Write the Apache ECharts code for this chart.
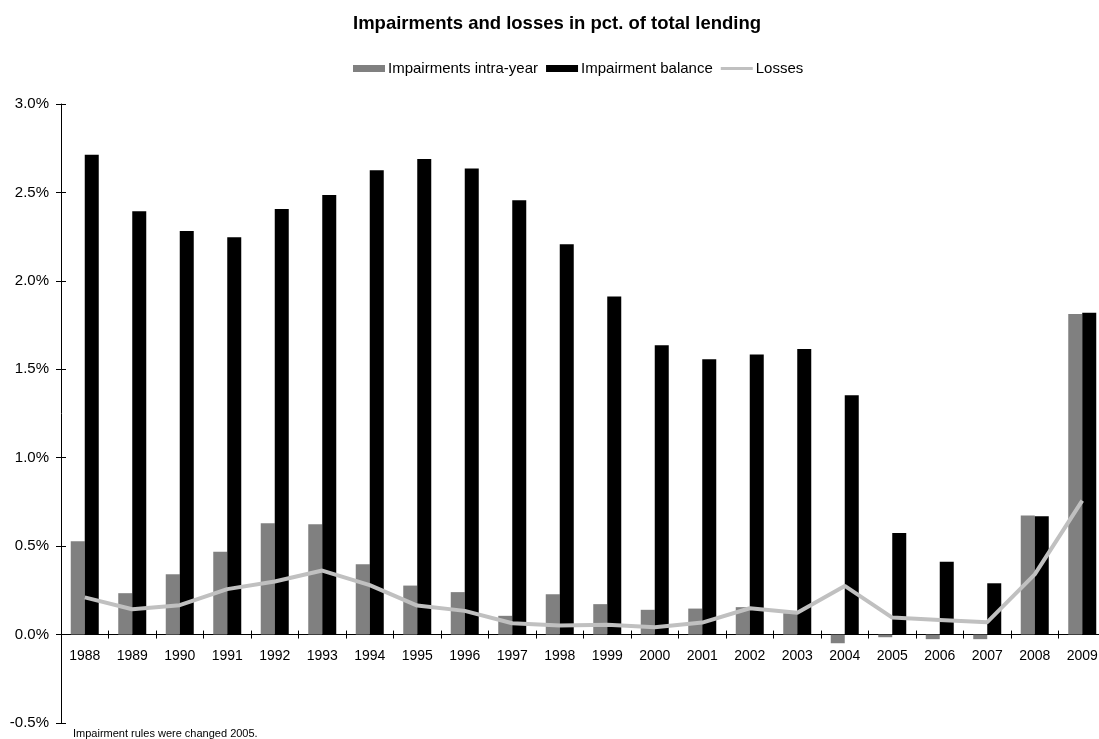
<!DOCTYPE html>
<html>
<head>
<meta charset="utf-8">
<style>
  html, body { margin: 0; padding: 0; background: #fff; }
  #chart { width: 1099px; height: 739px; }
</style>
<script src="https://cdn.jsdelivr.net/npm/echarts@6/dist/echarts.min.js"></script>
</head>
<body>
<div id="chart"></div>
<script>
// Years on the category axis
const years = ['1988','1989','1990','1991','1992','1993','1994','1995','1996','1997','1998',
               '1999','2000','2001','2002','2003','2004','2005','2006','2007','2008','2009'];

// Impairments booked during the year, % of total lending
const impairmentsIntraYear = [0.528, 0.234, 0.341, 0.469, 0.630, 0.624, 0.398, 0.277, 0.240, 0.106, 0.228,
                              0.172, 0.140, 0.147, 0.155, 0.121, -0.049, -0.015, -0.026, -0.026, 0.673, 1.813];

// Accumulated impairment balance, % of total lending
const impairmentBalance = [2.713, 2.393, 2.282, 2.246, 2.406, 2.486, 2.625, 2.689, 2.636, 2.456, 2.207,
                           1.911, 1.636, 1.557, 1.583, 1.615, 1.353, 0.575, 0.412, 0.290, 0.669, 1.819];

// Realised losses, % of total lending
const losses = [0.210, 0.143, 0.166, 0.257, 0.300, 0.362, 0.280, 0.164, 0.134, 0.064, 0.051,
                0.056, 0.042, 0.068, 0.149, 0.124, 0.275, 0.096, 0.083, 0.070, 0.340, 0.757];

// Value-axis ticks
const yMin = -0.5, yMax = 3.0, yStep = 0.5;

const FONT = '"Liberation Sans", Arial, sans-serif';
const pct = v => v.toFixed(1) + '%';

const GRID = { left: 61, top: 104, right: -7, bottom: 16 };
const CHART_H = 739;

const chart = echarts.init(document.getElementById('chart'), null, { renderer: 'canvas' });

// Category axis config; the offset lifts it from the grid bottom to the 0% line
function catAxis(offset, primary) {
  return {
    type: 'category',
    data: years,
    position: 'bottom',
    offset: offset,
    boundaryGap: true,
    axisLine: { onZero: false, lineStyle: { color: '#000', width: 1 } },
    axisTick: { show: true, inside: !primary, length: 4, lineStyle: { color: '#000' } },
    axisLabel: primary
      ? { fontFamily: FONT, fontSize: 14, color: '#000', margin: 15, interval: 0 }
      : { show: false },
    splitLine: { show: false }
  };
}

chart.setOption({
  animation: false,
  backgroundColor: '#ffffff',
  textStyle: { fontFamily: FONT, color: '#000' },
  title: {
    text: 'Impairments and losses in pct. of total lending',
    left: 348,
    top: 9,
    textStyle: { fontFamily: FONT, fontSize: 18.5, fontWeight: 'bold', color: '#000' }
  },
  legend: {
    top: 56,
    left: 348,
    itemWidth: 32,
    itemHeight: 7,
    itemGap: 8,
    textStyle: { fontFamily: FONT, fontSize: 15, color: '#000', padding: [0, 0, 0, -2] },
    data: [
      { name: 'Impairments intra-year', icon: 'rect' },
      { name: 'Impairment balance', icon: 'rect' },
      { name: 'Losses', icon: 'path://M0,0H32V3H0Z', itemStyle: { color: '#c0c0c0' } }
    ]
  },
  graphic: [{
    type: 'text',
    left: 73,
    top: 728,
    style: { text: 'Impairment rules were changed 2005.', font: '11px ' + FONT, fill: '#000' }
  }],
  grid: Object.assign({ containLabel: false, outerBoundsMode: 'none' }, GRID),
  xAxis: [catAxis(0, true), catAxis(0, false)],
  yAxis: [
    {
      type: 'value',
      min: yMin, max: yMax, interval: yStep,
      axisLine: { show: true, lineStyle: { color: '#000', width: 1 } },
      axisTick: { show: true, inside: false, length: 5, lineStyle: { color: '#000' } },
      axisLabel: { fontFamily: FONT, fontSize: 15, color: '#000', margin: 12, formatter: pct },
      splitLine: { show: false }
    },
    {
      type: 'value',
      position: 'left',
      min: yMin, max: yMax, interval: yStep,
      axisLine: { show: false },
      axisTick: { show: true, inside: true, length: 5, lineStyle: { color: '#000' } },
      axisLabel: { show: false },
      splitLine: { show: false }
    }
  ],
  series: [
    {
      name: 'Impairments intra-year',
      type: 'bar',
      data: impairmentsIntraYear,
      barWidth: 14,
      barGap: '0%',
      itemStyle: { color: '#808080' }
    },
    {
      name: 'Impairment balance',
      type: 'bar',
      data: impairmentBalance,
      barWidth: 14,
      barGap: '0%',
      itemStyle: { color: '#000000' }
    },
    {
      name: 'Losses',
      type: 'line',
      data: losses,
      symbol: 'none',
      lineStyle: { color: '#c0c0c0', width: 4 },
      itemStyle: { color: '#c0c0c0' },
      z: 5
    }
  ]
});

// Move the category axis (line, ticks, labels) up to the 0% level of the value axis
const zeroY = chart.convertToPixel({ yAxisIndex: 0 }, 0);
const gridBottomY = CHART_H - GRID.bottom;
const lift = -(gridBottomY - zeroY);
chart.setOption({ xAxis: [catAxis(lift, true), catAxis(lift, false)] });
</script>
</body>
</html>
